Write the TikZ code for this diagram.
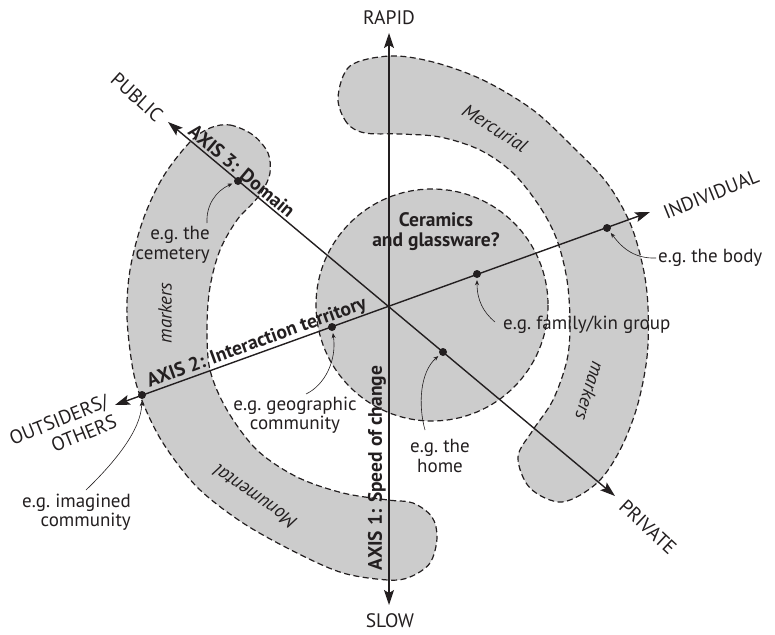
\documentclass[tikz,border=0pt]{standalone}
\usepackage{fontspec}
\setmainfont{PT Sans}
\usetikzlibrary{arrows.meta}
\definecolor{ringgray}{RGB}{204,204,204}
\definecolor{ink}{RGB}{35,31,32}
\begin{document}
\begin{tikzpicture}[x=1pt,y=-1pt,
  ringshape/.style={fill=ringgray,draw=ink,line width=1.2pt,dash pattern=on 6pt off 3.5pt},
  axisline/.style={draw=ink,line width=1.4pt,{Stealth[length=15pt,width=10pt,inset=3pt]}-{Stealth[length=15pt,width=10pt,inset=3pt]}},
  dot/.style={circle,fill=ink,inner sep=0pt,minimum size=8pt},
  lbl/.style={font=\fontsize{19}{19.5}\selectfont,text=ink,inner sep=1pt},
  caplbl/.style={font=\fontsize{19.5}{22}\selectfont,text=ink,inner sep=1pt},
  axlbl/.style={font=\fontsize{19.5}{20}\selectfont\bfseries,text=ink,inner sep=1pt},
  ital/.style={font=\fontsize{19}{20}\selectfont\itshape,text=ink,inner sep=1pt},
  note/.style={draw=ink,line width=0.6pt,-{Stealth[length=5pt,width=4pt]},shorten >=2pt},
]
\path[use as bounding box] (0,0) rectangle (775,634);

% shapes
\path[ringshape] plot[smooth cycle, tension=0.55] coordinates {
 (365,133) (347,123) (338,98) (350,66) (390,56) (433,62) (483,80) (533,110)
 (573,147) (607,183) (630,223) (643,267) (648,307) (647,357) (637,407)
 (620,450) (597,483) (562,502) (530,488) (518,457) (533,430) (553,400)
 (567,360) (570,323) (567,280) (557,240) (540,207) (513,173) (480,150)
 (440,137) (400,134)};
\path[ringshape] plot[smooth cycle, tension=0.55] coordinates {
 (210,128) (230,125) (253,135) (268,153) (270,173) (263,190) (253,203)
 (237,220) (220,250) (210,287) (207,327) (210,370) (227,410) (257,450)
 (297,477) (343,493) (388,500) (413,503) (432,517) (437,538) (430,563)
 (410,577) (388,580) (343,573) (297,553) (243,523) (197,487) (163,443)
 (143,403) (133,370) (127,317) (130,270) (143,220) (163,177) (190,142)};
\path[ringshape] (432,305) circle[radius=116];

% axes
\coordinate (top) at (389,33);
\coordinate (bot) at (389,605);
\coordinate (pub) at (168,122);
\coordinate (priv) at (615,496);
\coordinate (outs) at (115,405);
\coordinate (ind) at (650,212);
\draw[axisline] (top) -- (bot);
\draw[axisline] (pub) -- (priv);
\draw[axisline] (outs) -- (ind);

% dots
\node[dot] (dcem) at (238,181) {};
\node[dot] (dhome) at (443,352) {};
\node[dot] (dout) at (142,395) {};
\node[dot] (dgeo) at (332,327) {};
\node[dot] (dfam) at (477,274) {};
\node[dot] (dbody) at (607,228) {};

% end labels
\node[caplbl] (rapid) at (389,18) {RAPID};
\node[caplbl] (slow) at (390,621) {SLOW};
\node[caplbl,rotate=-42] (public) at (137,97) {PUBLIC};
\node[caplbl,rotate=-43] (private) at (648,527) {PRIVATE};
\node[caplbl,rotate=22] (indiv) at (711,194) {INDIVIDUAL};
\node[caplbl,rotate=22,align=right] (others) at (63,430) {OUTSIDERS/\\OTHERS};

% axis labels
\node[axlbl,rotate=-40] (ax3) at (242,171) {AXIS 3: Domain};
\node[axlbl,rotate=20] (ax2) at (257,343) {AXIS 2: Interaction territory};
\node[axlbl,rotate=90] (ax1) at (377,468) {AXIS 1: Speed of change};
\node[axlbl,align=center] (cer) at (436,232) {Ceramics\\and glassware?};

% ring labels
\node[ital,rotate=-32] (merc) at (495,128) {Mercurial};
\node[ital,rotate=-107] (mkr) at (590,391) {markers};
\node[ital,rotate=90] (mkl) at (165,313) {markers};
\node[ital,rotate=145] (monu) at (255,497) {Monumental};

% example labels
\node[lbl,align=right,anchor=east] (ncem) at (211,245) {e.g.\ the\\cemetery};
\node[lbl,align=right,anchor=east] (nimg) at (132,512) {e.g.\ imagined\\community};
\node[lbl,align=center] (ngeo) at (295,415) {e.g.\ geographic\\community};
\node[lbl,align=center] (nhome) at (440,456) {e.g.\ the\\home};
\node[lbl,anchor=west] (nfam) at (502,325) {e.g.\ family/kin group};
\node[lbl,anchor=west] (nbody) at (657,258) {e.g.\ the body};

% pointers
\coordinate (scem) at (207,223);
\coordinate (simg) at (86,490);
\coordinate (sgeo) at (306,394);
\coordinate (shome) at (425,430);
\coordinate (sfam) at (495,322);
\coordinate (sbody) at (656,258);
\draw[note] (scem) .. controls (206,205) and (216,191) .. (dcem);
\draw[note] (simg) .. controls (115,462) and (141,430) .. (dout);
\draw[note] (sgeo) .. controls (325,385) and (337,360) .. (dgeo);
\draw[note] (shome) .. controls (418,405) and (420,372) .. (dhome);
\draw[note] (sfam) .. controls (483,312) and (477,300) .. (dfam);
\draw[note] (sbody) .. controls (632,259) and (620,245) .. (dbody);
\end{tikzpicture}
\end{document}
